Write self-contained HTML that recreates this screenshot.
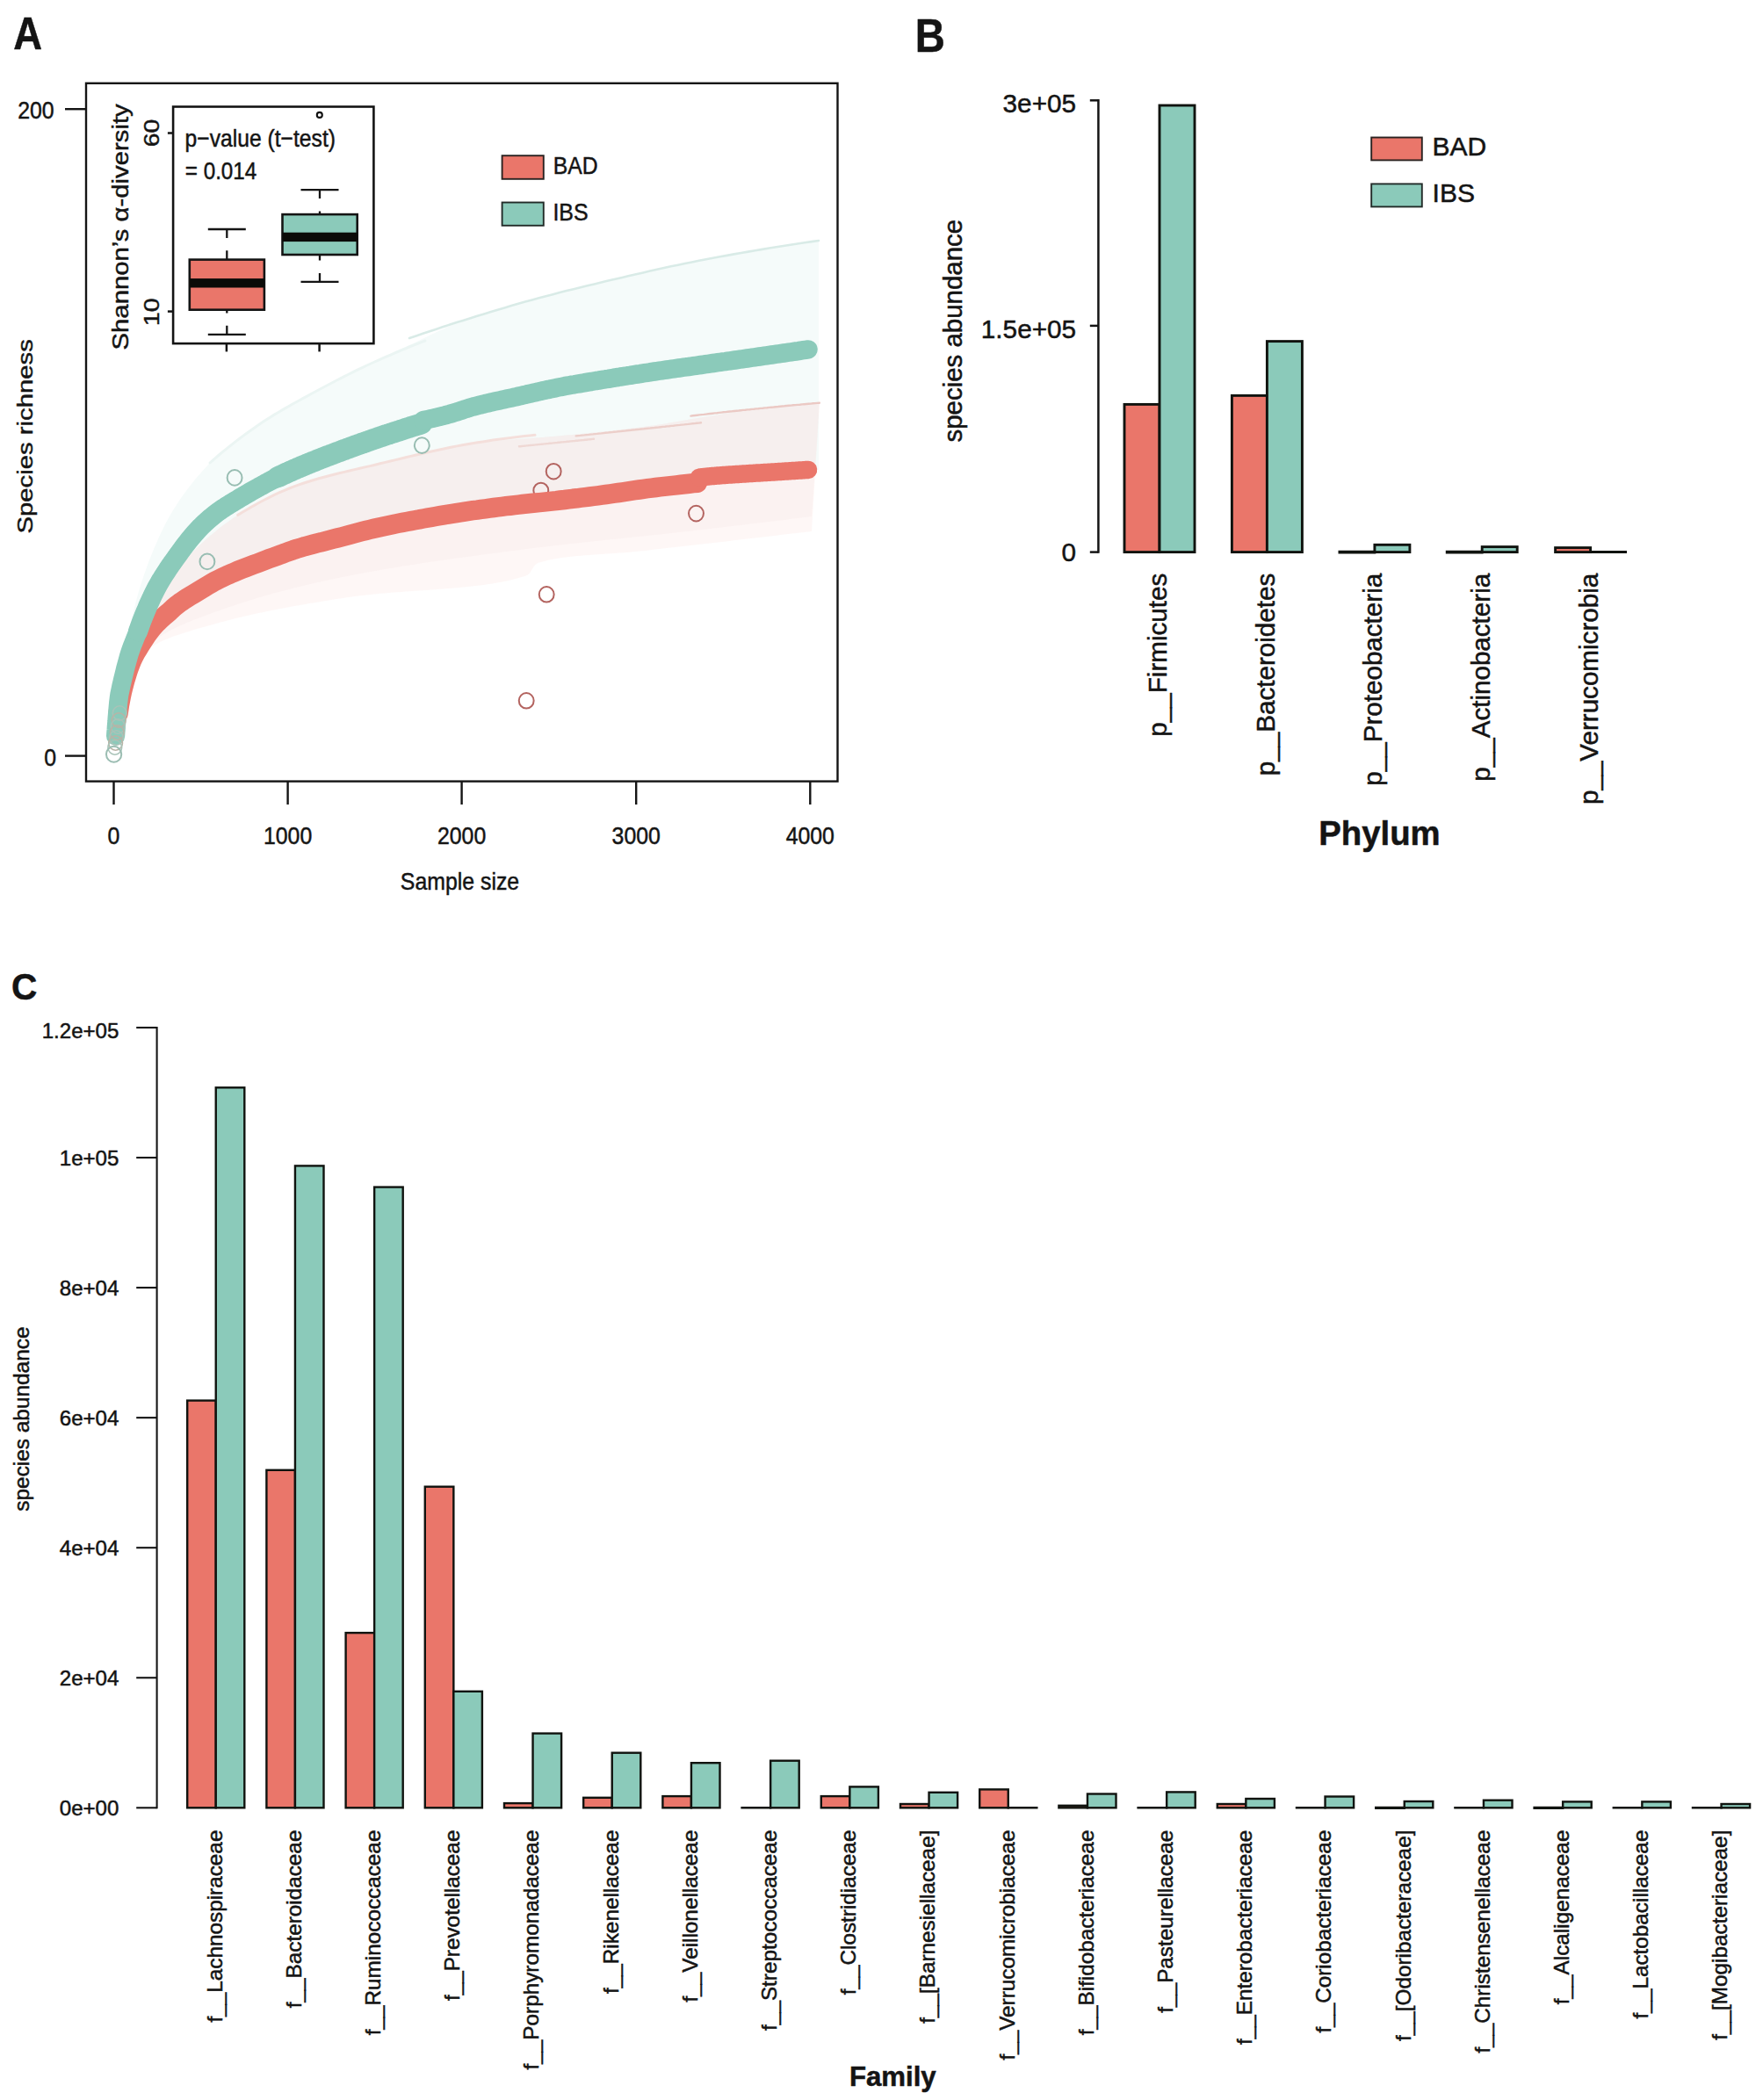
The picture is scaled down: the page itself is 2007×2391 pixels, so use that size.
<!DOCTYPE html>
<html lang="en">
<head>
<meta charset="utf-8">
<title>Figure: species richness and abundance (BAD vs IBS)</title>
<style>
html,body{margin:0;padding:0;background:#fff;}
body{width:2007px;height:2391px;overflow:hidden;}
svg{display:block;font-family:"Liberation Sans", Arial, Helvetica, sans-serif;}
</style>
</head>
<body>
<svg width="2007" height="2391" viewBox="0 0 2007 2391">
<rect width="2007" height="2391" fill="#ffffff"/>
<g id="panelA">
<path d="M131.0,835.0 L131.3,829.5 L131.6,824.0 L132.0,818.6 L132.5,813.1 L133.0,807.6 L133.5,802.2 L134.1,796.8 L134.8,791.4 L135.5,786.0 L136.2,780.6 L137.0,775.2 L137.8,769.8 L138.7,764.4 L139.6,759.1 L140.5,753.8 L141.4,748.4 L142.4,743.1 L143.4,737.8 L144.4,732.5 L145.5,727.2 L146.5,721.9 L147.6,716.6 L148.7,711.4 L149.8,706.1 L150.9,700.9 L152.1,695.6 L153.4,690.4 L154.7,685.1 L156.2,679.8 L157.6,674.5 L159.2,669.3 L160.8,664.0 L162.5,658.8 L164.3,653.6 L166.1,648.4 L168.0,643.2 L169.9,638.1 L171.9,633.0 L173.9,627.9 L176.0,622.9 L178.2,618.0 L180.3,613.1 L182.5,608.2 L184.8,603.4 L187.1,598.7 L189.6,594.0 L192.2,589.2 L194.9,584.5 L197.7,579.8 L200.7,575.2 L203.7,570.6 L206.8,566.0 L210.1,561.5 L213.4,557.0 L216.7,552.7 L220.2,548.3 L223.6,544.1 L227.2,539.9 L230.7,535.9 L234.4,531.9 L238.0,528.1 L241.7,524.3 L245.5,520.6 L249.5,517.0 L253.5,513.5 L257.7,510.1 L262.0,506.7 L266.3,503.3 L270.8,500.1 L275.2,496.8 L279.7,493.7 L284.3,490.5 L288.8,487.5 L293.3,484.4 L297.9,481.4 L302.4,478.4 L306.9,475.5 L311.5,472.7 L316.1,469.9 L320.8,467.1 L325.5,464.4 L330.2,461.7 L335.0,459.0 L339.8,456.4 L344.5,453.8 L349.3,451.2 L354.1,448.6 L358.8,446.0 L363.6,443.4 L368.4,440.9 L373.2,438.4 L378.0,435.9 L382.9,433.5 L387.7,431.0 L392.6,428.6 L397.4,426.2 L402.3,423.7 L407.2,421.3 L412.0,418.9 L416.9,416.5 L421.8,414.1 L426.6,411.7 L431.5,409.4 L436.4,407.0 L441.3,404.6 L446.2,402.3 L451.1,399.9 L456.0,397.6 L460.9,395.3 L465.8,393.0 L470.7,390.7 L475.6,388.4 L480.5,386.0 L485.4,383.7 L490.3,381.3 L495.2,379.0 L500.1,376.6 L505.1,374.4 L510.0,372.1 L515.0,370.0 L520.0,367.9 L525.0,365.9 L530.1,364.0 L535.1,362.2 L540.3,360.4 L545.4,358.7 L550.6,357.1 L555.8,355.5 L561.0,353.9 L566.2,352.4 L571.4,350.9 L576.6,349.5 L581.9,348.0 L587.1,346.5 L592.4,345.1 L597.6,343.7 L602.8,342.2 L608.1,340.8 L613.3,339.4 L618.5,338.0 L623.8,336.6 L629.0,335.2 L634.3,333.9 L639.5,332.5 L644.8,331.2 L650.1,329.9 L655.3,328.6 L660.6,327.3 L665.9,326.0 L671.1,324.7 L676.4,323.5 L681.7,322.2 L687.0,320.9 L692.3,319.7 L697.5,318.4 L702.8,317.2 L708.1,315.9 L713.4,314.7 L718.7,313.4 L724.0,312.2 L729.2,311.0 L734.5,309.8 L739.8,308.6 L745.1,307.4 L750.4,306.2 L755.7,305.1 L761.0,303.9 L766.3,302.8 L771.6,301.7 L777.0,300.6 L782.3,299.5 L787.6,298.4 L792.9,297.4 L798.2,296.3 L803.5,295.3 L808.9,294.3 L814.2,293.3 L819.5,292.3 L824.9,291.4 L830.2,290.4 L835.5,289.4 L840.9,288.5 L846.2,287.5 L851.6,286.6 L856.9,285.7 L862.3,284.8 L867.6,283.9 L873.0,283.0 L878.3,282.1 L883.7,281.2 L889.0,280.4 L894.4,279.5 L899.8,278.7 L905.1,277.9 L910.5,277.1 L915.9,276.3 L921.2,275.5 L926.6,274.8 L932.0,274.0 L932.0,535.0 L927.4,535.5 L922.7,536.0 L918.1,536.6 L913.4,537.1 L908.8,537.6 L904.2,538.1 L899.5,538.6 L894.9,539.2 L890.2,539.7 L885.6,540.2 L880.9,540.7 L876.3,541.3 L871.7,541.8 L867.0,542.3 L862.4,542.8 L857.7,543.4 L853.1,543.9 L848.5,544.4 L843.8,545.0 L839.2,545.5 L834.5,546.0 L829.9,546.5 L825.3,547.1 L820.6,547.6 L816.0,548.1 L811.3,548.7 L806.7,549.2 L802.1,549.8 L797.4,550.3 L792.8,550.8 L788.2,551.4 L783.5,551.9 L778.9,552.5 L774.2,553.0 L769.6,553.6 L765.0,554.1 L760.3,554.6 L755.7,555.2 L751.0,555.7 L746.4,556.3 L741.8,556.8 L737.1,557.4 L732.5,557.9 L727.9,558.5 L723.2,559.0 L718.6,559.6 L713.9,560.2 L709.3,560.7 L704.7,561.3 L700.0,561.8 L695.4,562.4 L690.8,562.9 L686.1,563.5 L681.5,564.0 L676.8,564.6 L672.2,565.1 L667.6,565.7 L662.9,566.3 L658.3,566.8 L653.7,567.4 L649.0,567.9 L644.4,568.5 L639.8,569.0 L635.1,569.6 L630.5,570.1 L625.8,570.7 L621.2,571.2 L616.6,571.7 L611.9,572.2 L607.3,572.8 L602.6,573.3 L598.0,573.8 L593.3,574.3 L588.7,574.9 L584.1,575.4 L579.4,576.0 L574.8,576.5 L570.1,577.1 L565.5,577.6 L560.9,578.2 L556.2,578.8 L551.6,579.4 L547.0,580.0 L542.4,580.7 L537.7,581.3 L533.1,582.0 L528.5,582.7 L523.9,583.3 L519.3,584.0 L514.6,584.7 L510.0,585.5 L505.4,586.2 L500.8,586.9 L496.2,587.7 L491.6,588.4 L486.9,589.2 L482.3,590.0 L477.7,590.8 L473.1,591.6 L468.5,592.4 L463.9,593.3 L459.3,594.1 L454.8,595.0 L450.2,595.9 L445.6,596.8 L441.0,597.7 L436.5,598.7 L431.9,599.6 L427.3,600.6 L422.8,601.6 L418.2,602.6 L413.7,603.6 L409.1,604.7 L404.6,605.8 L400.1,606.9 L395.5,608.1 L391.0,609.3 L386.5,610.5 L381.9,611.7 L377.4,612.9 L372.9,614.2 L368.4,615.5 L363.9,616.8 L359.4,618.1 L355.0,619.4 L350.5,620.8 L346.0,622.1 L341.6,623.5 L337.2,624.9 L332.7,626.3 L328.3,627.8 L323.8,629.2 L319.4,630.7 L315.0,632.3 L310.5,633.8 L306.1,635.4 L301.7,637.1 L297.4,638.7 L293.0,640.4 L288.6,642.1 L284.3,643.9 L280.0,645.7 L275.7,647.5 L271.5,649.3 L267.2,651.2 L263.0,653.2 L258.7,655.1 L254.4,657.1 L250.1,659.2 L245.8,661.2 L241.6,663.4 L237.3,665.5 L233.1,667.8 L229.0,670.0 L224.9,672.4 L220.9,674.8 L216.9,677.2 L213.1,679.7 L209.3,682.3 L205.6,685.0 L202.1,687.7 L198.5,690.6 L195.0,693.6 L191.5,696.7 L188.0,700.0 L184.5,703.3 L181.1,706.8 L177.9,710.3 L174.7,714.0 L171.6,717.7 L168.8,721.4 L166.0,725.2 L163.5,729.1 L161.2,732.9 L159.0,736.8 L157.0,740.8 L155.0,745.0 L153.2,749.2 L151.4,753.6 L149.6,758.0 L148.0,762.4 L146.4,767.0 L145.0,771.5 L143.6,776.1 L142.3,780.6 L141.1,785.2 L140.1,789.7 L139.1,794.2 L138.1,798.7 L137.1,803.3 L136.2,807.8 L135.3,812.4 L134.5,817.0 L133.8,821.6 L133.1,826.3 L132.4,830.9 L131.9,835.6 L131.4,840.3 L131.0,845.0Z" fill="#f5fbfa"/>
<path d="M133.0,835.0 L133.2,829.9 L133.5,824.8 L133.9,819.7 L134.4,814.7 L135.0,809.7 L135.7,804.7 L136.5,799.8 L137.3,794.8 L138.2,790.0 L139.2,785.1 L140.3,780.3 L141.4,775.5 L142.6,770.7 L143.8,766.0 L145.1,761.3 L146.4,756.6 L147.8,751.9 L149.2,747.3 L150.6,742.7 L152.1,738.1 L153.6,733.6 L155.1,729.1 L156.7,724.6 L158.2,720.1 L159.8,715.7 L161.4,711.3 L163.2,706.8 L165.2,702.4 L167.4,698.1 L169.7,693.7 L172.1,689.4 L174.7,685.1 L177.3,680.9 L180.1,676.7 L182.9,672.5 L185.8,668.4 L188.8,664.4 L191.7,660.5 L194.7,656.6 L197.7,652.8 L200.7,649.1 L203.8,645.4 L206.9,641.8 L210.2,638.2 L213.5,634.6 L216.9,631.0 L220.3,627.5 L223.9,624.0 L227.5,620.6 L231.1,617.2 L234.8,613.8 L238.6,610.6 L242.4,607.4 L246.3,604.2 L250.1,601.1 L254.0,598.1 L258.0,595.2 L261.9,592.4 L265.9,589.6 L269.9,586.9 L273.9,584.4 L278.0,581.8 L282.1,579.3 L286.3,576.8 L290.6,574.4 L294.9,572.0 L299.3,569.7 L303.7,567.5 L308.2,565.3 L312.7,563.2 L317.2,561.1 L321.7,559.1 L326.2,557.2 L330.8,555.4 L335.3,553.7 L339.9,552.0 L344.4,550.5 L349.0,549.0 L353.7,547.5 L358.3,546.1 L363.0,544.8 L367.7,543.5 L372.4,542.2 L377.2,541.0 L381.9,539.8 L386.7,538.6 L391.5,537.5 L396.3,536.3 L401.1,535.2 L405.9,534.1 L410.6,533.0 L415.4,531.9 L420.2,530.8 L425.0,529.7 L429.8,528.5 L434.5,527.4 L439.3,526.2 L444.0,525.1 L448.8,523.9 L453.5,522.7 L458.3,521.5 L463.0,520.3 L467.8,519.1 L472.6,517.9 L477.3,516.7 L482.1,515.5 L486.9,514.4 L491.6,513.3 L496.4,512.2 L501.2,511.1 L506.0,510.1 L510.8,509.1 L515.6,508.2 L520.4,507.3 L525.2,506.5 L530.0,505.8 L534.8,505.1 L539.6,504.4 L544.5,503.9 L549.3,503.3 L554.1,502.8 L559.0,502.4 L563.9,501.9 L568.7,501.5 L573.6,501.1 L578.5,500.7 L583.4,500.4 L588.2,500.0 L593.1,499.7 L598.0,499.3 L602.9,499.0 L607.8,498.6 L612.7,498.3 L617.6,497.9 L622.5,497.5 L627.3,497.1 L632.2,496.7 L637.1,496.3 L642.0,495.8 L646.8,495.3 L651.7,494.9 L656.6,494.4 L661.4,493.9 L666.3,493.4 L671.2,493.0 L676.0,492.5 L680.9,492.0 L685.8,491.4 L690.6,490.9 L695.5,490.4 L700.3,489.9 L705.2,489.3 L710.1,488.8 L714.9,488.2 L719.8,487.6 L724.6,487.0 L729.5,486.4 L734.3,485.8 L739.2,485.1 L744.0,484.4 L748.8,483.7 L753.7,483.0 L758.5,482.2 L763.3,481.3 L768.1,480.5 L772.9,479.7 L777.8,478.8 L782.6,477.9 L787.4,477.1 L792.2,476.3 L797.1,475.5 L801.9,474.7 L806.7,473.9 L811.5,473.2 L816.4,472.4 L821.2,471.6 L826.0,470.8 L830.9,470.1 L835.7,469.3 L840.5,468.6 L845.4,467.9 L850.2,467.3 L855.1,466.6 L859.9,466.0 L864.8,465.4 L869.6,464.9 L874.5,464.3 L879.3,463.7 L884.2,463.2 L889.1,462.7 L893.9,462.2 L898.8,461.7 L903.6,461.2 L908.5,460.7 L913.4,460.3 L918.3,459.9 L923.1,459.5 L928.0,459.1 L932.9,458.7 L924.0,605.0 L919.5,605.5 L915.1,606.0 L910.6,606.6 L906.2,607.1 L901.7,607.6 L897.3,608.1 L892.8,608.6 L888.4,609.1 L883.9,609.7 L879.5,610.2 L875.0,610.7 L870.6,611.2 L866.1,611.7 L861.7,612.2 L857.2,612.8 L852.8,613.3 L848.3,613.8 L843.9,614.3 L839.4,614.8 L835.0,615.3 L830.5,615.9 L826.1,616.4 L821.6,616.9 L817.2,617.4 L812.7,617.9 L808.3,618.4 L803.8,618.9 L799.3,619.5 L794.9,620.0 L790.4,620.5 L786.0,621.0 L781.5,621.5 L777.1,622.0 L772.6,622.5 L768.2,623.1 L763.7,623.6 L759.3,624.1 L754.8,624.6 L750.4,625.1 L745.9,625.6 L741.5,626.1 L737.0,626.7 L732.6,627.2 L728.0,627.6 L723.5,628.1 L718.8,628.5 L714.1,628.9 L709.4,629.2 L704.6,629.6 L699.8,629.9 L695.0,630.2 L690.2,630.6 L685.4,630.9 L680.6,631.2 L675.8,631.6 L671.0,631.9 L666.3,632.3 L661.6,632.7 L657.0,633.1 L652.4,633.5 L648.0,634.0 L643.5,634.6 L639.2,635.1 L635.0,635.8 L630.9,636.5 L626.9,637.2 L623.0,638.0 L619.3,638.9 L615.7,639.9 L612.3,640.9 L609.1,643.2 L606.4,647.3 L603.6,651.7 L600.6,654.7 L597.3,655.9 L593.8,657.0 L590.3,658.1 L586.6,659.1 L582.9,660.0 L579.1,660.9 L575.2,661.8 L571.3,662.6 L567.3,663.3 L563.2,664.0 L559.0,664.7 L554.8,665.3 L550.5,665.9 L546.1,666.5 L541.7,667.0 L537.3,667.6 L532.8,668.0 L528.3,668.5 L523.7,668.9 L519.1,669.3 L514.4,669.7 L509.7,670.1 L505.0,670.5 L500.3,670.8 L495.5,671.2 L490.7,671.5 L486.0,671.9 L481.1,672.2 L476.3,672.5 L471.5,672.8 L466.7,673.2 L461.9,673.5 L457.1,673.9 L452.2,674.2 L447.5,674.6 L442.7,675.0 L437.9,675.4 L433.1,675.8 L428.4,676.2 L423.7,676.7 L419.0,677.2 L414.4,677.7 L409.8,678.2 L405.2,678.8 L400.7,679.4 L396.2,680.0 L391.8,680.7 L387.4,681.4 L382.9,682.1 L378.5,682.8 L374.1,683.5 L369.6,684.2 L365.2,684.9 L360.8,685.7 L356.3,686.4 L351.9,687.1 L347.4,687.9 L343.0,688.7 L338.6,689.5 L334.1,690.3 L329.7,691.1 L325.3,691.9 L320.8,692.7 L316.4,693.6 L312.0,694.5 L307.6,695.3 L303.2,696.3 L298.8,697.2 L294.4,698.1 L290.0,699.1 L285.6,700.0 L281.3,701.0 L276.9,702.1 L272.6,703.1 L268.2,704.1 L263.9,705.2 L259.6,706.3 L255.3,707.5 L251.0,708.6 L246.8,709.8 L242.5,711.0 L238.0,712.2 L233.5,713.5 L228.8,714.8 L224.1,716.1 L219.4,717.5 L214.6,718.9 L209.9,720.4 L205.2,721.9 L200.6,723.5 L196.1,725.1 L191.6,726.9 L187.4,728.6 L183.2,730.5 L179.3,732.5 L175.6,734.5 L172.1,736.6 L169.0,738.8 L166.0,741.1 L163.5,743.5 L161.1,746.1 L158.9,749.2 L156.8,752.6 L154.7,756.4 L152.7,760.4 L150.9,764.7 L149.1,769.2 L147.4,773.8 L145.9,778.4 L144.4,783.2 L143.1,787.8 L141.8,792.5 L140.7,796.9 L139.7,801.3 L138.7,805.6 L137.8,809.9 L136.9,814.3 L136.0,818.7 L135.2,823.1 L134.5,827.5 L133.8,832.0 L133.2,836.4 L132.7,840.9 L132.3,845.5 L132.0,850.0Z" fill="#fbe4e0" fill-opacity="0.29"/>
<path d="M133.0,835.0 L133.2,829.9 L133.5,824.8 L133.9,819.7 L134.4,814.7 L135.0,809.7 L135.7,804.7 L136.5,799.8 L137.3,794.8 L138.2,790.0 L139.2,785.1 L140.3,780.3 L141.4,775.5 L142.6,770.7 L143.8,766.0 L145.1,761.3 L146.4,756.6 L147.8,751.9 L149.2,747.3 L150.6,742.7 L152.1,738.1 L153.6,733.6 L155.1,729.1 L156.7,724.6 L158.2,720.1 L159.8,715.7 L161.4,711.3 L163.2,706.8 L165.2,702.4 L167.4,698.1 L169.7,693.7 L172.1,689.4 L174.7,685.1 L177.3,680.9 L180.1,676.7 L182.9,672.5 L185.8,668.4 L188.8,664.4 L191.7,660.5 L194.7,656.6 L197.7,652.8 L200.7,649.1 L203.8,645.4 L206.9,641.8 L210.2,638.2 L213.5,634.6 L216.9,631.0 L220.3,627.5 L223.9,624.0 L227.5,620.6 L231.1,617.2 L234.8,613.8 L238.6,610.6 L242.4,607.4 L246.3,604.2 L250.1,601.1 L254.0,598.1 L258.0,595.2 L261.9,592.4 L265.9,589.6 L269.9,586.9 L273.9,584.4 L278.0,581.8 L282.1,579.3 L286.3,576.8 L290.6,574.4 L294.9,572.0 L299.3,569.7 L303.7,567.5 L308.2,565.3 L312.7,563.2 L317.2,561.1 L321.7,559.1 L326.2,557.2 L330.8,555.4 L335.3,553.7 L339.9,552.0 L344.4,550.5 L349.0,549.0 L353.7,547.5 L358.3,546.1 L363.0,544.8 L367.7,543.5 L372.4,542.2 L377.2,541.0 L381.9,539.8 L386.7,538.6 L391.5,537.5 L396.3,536.3 L401.1,535.2 L405.9,534.1 L410.6,533.0 L415.4,531.9 L420.2,530.8 L425.0,529.7 L429.8,528.5 L434.5,527.4 L439.3,526.2 L444.0,525.1 L448.8,523.9 L453.5,522.7 L458.3,521.5 L463.0,520.3 L467.8,519.1 L472.6,517.9 L477.3,516.7 L482.1,515.5 L486.9,514.4 L491.6,513.3 L496.4,512.2 L501.2,511.1 L506.0,510.1 L510.8,509.1 L515.6,508.2 L520.4,507.3 L525.2,506.5 L530.0,505.8 L534.8,505.1 L539.6,504.4 L544.5,503.9 L549.3,503.3 L554.1,502.8 L559.0,502.4 L563.9,501.9 L568.7,501.5 L573.6,501.1 L578.5,500.7 L583.4,500.4 L588.2,500.0 L593.1,499.7 L598.0,499.3 L602.9,499.0 L607.8,498.6 L612.7,498.3 L617.6,497.9 L622.5,497.5 L627.3,497.1 L632.2,496.7 L637.1,496.3 L642.0,495.8 L646.8,495.3 L651.7,494.9 L656.6,494.4 L661.4,493.9 L666.3,493.4 L671.2,493.0 L676.0,492.5 L680.9,492.0 L685.8,491.4 L690.6,490.9 L695.5,490.4 L700.3,489.9 L705.2,489.3 L710.1,488.8 L714.9,488.2 L719.8,487.6 L724.6,487.0 L729.5,486.4 L734.3,485.8 L739.2,485.1 L744.0,484.4 L748.8,483.7 L753.7,483.0 L758.5,482.2 L763.3,481.3 L768.1,480.5 L772.9,479.7 L777.8,478.8 L782.6,477.9 L787.4,477.1 L792.2,476.3 L797.1,475.5 L801.9,474.7 L806.7,473.9 L811.5,473.2 L816.4,472.4 L821.2,471.6 L826.0,470.8 L830.9,470.1 L835.7,469.3 L840.5,468.6 L845.4,467.9 L850.2,467.3 L855.1,466.6 L859.9,466.0 L864.8,465.4 L869.6,464.9 L874.5,464.3 L879.3,463.7 L884.2,463.2 L889.1,462.7 L893.9,462.2 L898.8,461.7 L903.6,461.2 L908.5,460.7 L913.4,460.3 L918.3,459.9 L923.1,459.5 L928.0,459.1 L932.9,458.7 L924.0,588.0 L919.8,588.5 L915.6,589.1 L911.4,589.6 L907.2,590.1 L902.9,590.6 L898.7,591.1 L894.5,591.7 L890.3,592.2 L886.1,592.7 L881.9,593.2 L877.7,593.7 L873.5,594.3 L869.2,594.8 L865.0,595.3 L860.8,595.8 L856.6,596.3 L852.4,596.8 L848.2,597.3 L844.0,597.8 L839.7,598.3 L835.5,598.8 L831.3,599.3 L827.1,599.8 L822.9,600.3 L818.7,600.8 L814.5,601.3 L810.2,601.8 L806.0,602.3 L801.8,602.8 L797.6,603.3 L793.4,603.8 L789.2,604.2 L784.9,604.7 L780.7,605.2 L776.5,605.6 L772.3,606.1 L768.1,606.6 L763.8,607.0 L759.6,607.5 L755.4,607.9 L751.2,608.4 L747.0,608.8 L742.7,609.3 L738.5,609.7 L734.3,610.2 L730.1,610.6 L725.8,611.0 L721.6,611.5 L717.4,611.9 L713.2,612.3 L709.0,612.8 L704.7,613.2 L700.5,613.7 L696.3,614.1 L692.1,614.5 L687.8,615.0 L683.6,615.4 L679.4,615.9 L675.2,616.3 L671.0,616.8 L666.7,617.2 L662.5,617.7 L658.3,618.2 L654.1,618.6 L649.9,619.1 L645.6,619.6 L641.4,620.0 L637.2,620.5 L633.0,621.0 L628.8,621.5 L624.6,622.0 L620.4,622.5 L616.1,623.0 L611.9,623.5 L607.7,624.0 L603.5,624.6 L599.3,625.1 L595.1,625.6 L590.9,626.2 L586.7,626.7 L582.5,627.2 L578.2,627.8 L574.0,628.3 L569.8,628.9 L565.6,629.4 L561.4,629.9 L557.2,630.5 L553.0,631.0 L548.7,631.6 L544.5,632.2 L540.3,632.7 L536.1,633.3 L531.9,633.9 L527.7,634.4 L523.5,635.0 L519.2,635.6 L515.0,636.2 L510.8,636.8 L506.6,637.4 L502.4,638.0 L498.2,638.6 L494.0,639.2 L489.8,639.8 L485.6,640.4 L481.4,641.1 L477.2,641.7 L473.0,642.4 L468.8,643.0 L464.6,643.7 L460.4,644.3 L456.2,645.0 L452.0,645.7 L447.8,646.4 L443.7,647.1 L439.5,647.8 L435.3,648.5 L431.1,649.2 L427.0,650.0 L422.8,650.7 L418.6,651.5 L414.5,652.2 L410.3,653.0 L406.2,653.8 L402.0,654.6 L397.9,655.4 L393.7,656.2 L389.6,657.1 L385.4,657.9 L381.2,658.8 L377.1,659.7 L372.9,660.6 L368.7,661.5 L364.6,662.4 L360.4,663.3 L356.3,664.3 L352.1,665.2 L347.9,666.2 L343.8,667.2 L339.6,668.2 L335.5,669.3 L331.3,670.3 L327.2,671.4 L323.1,672.4 L318.9,673.5 L314.8,674.7 L310.7,675.8 L306.6,676.9 L302.5,678.1 L298.4,679.3 L294.3,680.5 L290.3,681.7 L286.2,682.9 L282.1,684.2 L278.1,685.5 L274.1,686.7 L270.1,688.1 L266.1,689.4 L262.1,690.7 L258.1,692.1 L254.2,693.5 L250.2,694.9 L246.3,696.3 L242.2,697.8 L238.1,699.3 L233.9,700.8 L229.6,702.4 L225.4,704.0 L221.1,705.6 L216.8,707.3 L212.6,709.1 L208.4,710.9 L204.3,712.7 L200.3,714.6 L196.3,716.6 L192.5,718.6 L188.8,720.7 L185.2,722.8 L181.8,725.0 L178.6,727.3 L175.6,729.7 L172.9,732.1 L170.3,734.7 L167.9,737.3 L165.6,740.1 L163.3,743.2 L161.1,746.4 L158.9,749.7 L156.8,753.3 L154.8,756.9 L152.9,760.8 L151.0,764.7 L149.3,768.8 L147.6,773.0 L146.0,777.2 L144.6,781.6 L143.2,786.1 L142.0,790.7 L141.0,795.3 L140.0,800.0Z" fill="#f3e2df" fill-opacity="0.23"/>
<path d="M239.0,527.0 L242.6,523.8 L246.3,520.6 L249.9,517.5 L253.6,514.4 L257.4,511.4 L261.1,508.4 L264.9,505.4 L268.7,502.4 L272.5,499.5 L276.3,496.6 L280.2,493.8 L284.1,491.0 L288.0,488.2 L291.9,485.5 L295.8,482.8 L299.8,480.1 L303.8,477.5 L307.8,475.0 L311.9,472.4 L316.0,470.0 L320.1,467.5 L324.2,465.1 L328.4,462.7 L332.6,460.3 L336.8,458.0 L341.0,455.7 L345.2,453.4 L349.5,451.1 L353.7,448.8 L357.9,446.5 L362.1,444.2 L366.3,442.0 L370.6,439.7 L374.8,437.5 L379.1,435.2 L383.3,433.0 L387.6,430.8 L391.9,428.6 L396.2,426.5 L400.5,424.3 L404.8,422.2 L409.1,420.1 L413.4,418.1 L417.7,416.0 L422.1,414.0 L426.5,412.0 L430.8,410.1 L435.2,408.1 L439.6,406.2 L444.0,404.3 L448.4,402.4 L452.8,400.5 L457.2,398.7 L461.7,396.8 L466.1,395.0 L470.6,393.2 L475.0,391.5 L479.5,389.7 L484.0,388.0" fill="none" stroke="#ebf5f3" stroke-width="3" stroke-linecap="round" opacity="1"/>
<path d="M466.0,385.0 L473.7,382.4 L481.4,379.8 L489.1,377.2 L496.8,374.7 L504.6,372.1 L512.3,369.6 L520.0,367.1 L527.8,364.7 L535.6,362.3 L543.3,359.8 L551.1,357.4 L558.9,355.0 L566.6,352.7 L574.4,350.4 L582.2,348.1 L590.0,345.8 L597.9,343.6 L605.7,341.4 L613.6,339.3 L621.4,337.2 L629.3,335.2 L637.2,333.1 L645.0,331.1 L652.9,329.2 L660.8,327.2 L668.7,325.3 L676.6,323.4 L684.5,321.5 L692.4,319.6 L700.4,317.7 L708.3,315.9 L716.2,314.0 L724.1,312.2 L732.1,310.4 L740.0,308.6 L747.9,306.8 L755.9,305.0 L763.8,303.3 L771.8,301.7 L779.7,300.0 L787.7,298.4 L795.7,296.8 L803.7,295.3 L811.6,293.8 L819.6,292.3 L827.6,290.9 L835.6,289.4 L843.6,288.0 L851.6,286.6 L859.6,285.2 L867.7,283.9 L875.7,282.5 L883.7,281.2 L891.8,280.0 L899.8,278.7 L907.8,277.5 L915.9,276.3 L923.9,275.1 L932.0,274.0" fill="none" stroke="#d9ebe7" stroke-width="2.6" stroke-linecap="round" opacity="1"/>
<path d="M270.7,586.4 L275.9,583.3 L281.1,580.2 L286.3,577.1 L291.6,574.2 L296.9,571.3 L302.2,568.5 L307.5,565.8 L312.9,563.2 L318.3,560.7 L323.8,558.3 L329.3,556.0 L334.8,553.9 L340.3,551.9 L345.9,550.0 L351.5,548.2 L357.2,546.5 L362.9,544.8 L368.7,543.2 L374.4,541.7 L380.2,540.2 L386.1,538.8 L391.9,537.4 L397.8,536.0 L403.6,534.6 L409.5,533.3 L415.3,531.9 L421.2,530.6 L427.0,529.2 L432.8,527.8 L438.6,526.4 L444.5,525.0 L450.3,523.6 L456.1,522.2 L461.9,520.8 L467.7,519.4 L473.6,518.0 L479.4,516.7 L485.2,515.3 L491.1,514.0 L496.9,512.7 L502.7,511.5 L508.6,510.2 L514.4,509.0 L520.3,507.9 L526.2,506.8 L532.0,505.7 L537.9,504.7 L543.8,503.8 L549.7,502.9 L555.6,502.0 L561.5,501.1 L567.4,500.3 L573.3,499.5 L579.3,498.7 L585.2,497.9 L591.1,497.2 L597.1,496.6 L603.0,495.9 L609.0,495.3" fill="none" stroke="#f4dfdb" stroke-width="3" stroke-linecap="round" opacity="1"/>
<path d="M591.0,508.3 L592.4,508.2 L593.9,508.0 L595.3,507.9 L596.8,507.7 L598.2,507.6 L599.6,507.4 L601.1,507.3 L602.5,507.1 L604.0,507.0 L605.4,506.9 L606.8,506.7 L608.3,506.6 L609.7,506.4 L611.2,506.3 L612.6,506.1 L614.1,506.0 L615.5,505.9 L616.9,505.7 L618.4,505.6 L619.8,505.4 L621.3,505.3 L622.7,505.1 L624.1,505.0 L625.6,504.8 L627.0,504.7 L628.5,504.6 L629.9,504.4 L631.3,504.3 L632.8,504.1 L634.2,504.0 L635.7,503.8 L637.1,503.7 L638.5,503.5 L640.0,503.4 L641.4,503.3 L642.9,503.1 L644.3,503.0 L645.7,502.8 L647.2,502.7 L648.6,502.5 L650.1,502.4 L651.5,502.2 L652.9,502.1 L654.4,502.0 L655.8,501.8 L657.3,501.7 L658.7,501.5 L660.2,501.4 L661.6,501.2 L663.0,501.1 L664.5,501.0 L665.9,500.8 L667.4,500.7 L668.8,500.5 L670.2,500.4 L671.7,500.2 L673.1,500.1 L674.6,499.9 L676.0,499.8" fill="none" stroke="#efd8d4" stroke-width="2.4" stroke-linecap="round" opacity="1"/>
<path d="M655.7,496.4 L658.1,496.1 L660.5,495.9 L662.9,495.6 L665.3,495.4 L667.8,495.1 L670.2,494.9 L672.6,494.6 L675.0,494.4 L677.4,494.1 L679.8,493.9 L682.2,493.6 L684.6,493.4 L687.1,493.1 L689.5,492.8 L691.9,492.6 L694.3,492.3 L696.7,492.1 L699.1,491.8 L701.5,491.6 L703.9,491.3 L706.4,491.1 L708.8,490.8 L711.2,490.6 L713.6,490.3 L716.0,490.0 L718.4,489.8 L720.8,489.5 L723.2,489.3 L725.6,489.0 L728.1,488.8 L730.5,488.5 L732.9,488.3 L735.3,488.0 L737.7,487.7 L740.1,487.5 L742.5,487.2 L744.9,487.0 L747.4,486.7 L749.8,486.5 L752.2,486.2 L754.6,485.9 L757.0,485.7 L759.4,485.4 L761.8,485.2 L764.2,484.9 L766.6,484.7 L769.1,484.4 L771.5,484.1 L773.9,483.9 L776.3,483.6 L778.7,483.4 L781.1,483.1 L783.5,482.9 L785.9,482.6 L788.4,482.3 L790.8,482.1 L793.2,481.8 L795.6,481.6 L798.0,481.3" fill="none" stroke="#eccfca" stroke-width="2.4" stroke-linecap="round" opacity="1"/>
<path d="M786.4,473.6 L788.9,473.3 L791.4,473.0 L793.8,472.7 L796.3,472.4 L798.8,472.1 L801.3,471.9 L803.8,471.6 L806.2,471.3 L808.7,471.0 L811.2,470.7 L813.7,470.4 L816.2,470.2 L818.6,469.9 L821.1,469.6 L823.6,469.3 L826.1,469.1 L828.6,468.8 L831.0,468.5 L833.5,468.3 L836.0,468.0 L838.5,467.7 L841.0,467.5 L843.5,467.2 L845.9,466.9 L848.4,466.7 L850.9,466.4 L853.4,466.2 L855.9,465.9 L858.3,465.7 L860.8,465.4 L863.3,465.2 L865.8,464.9 L868.3,464.7 L870.8,464.4 L873.2,464.2 L875.7,463.9 L878.2,463.7 L880.7,463.5 L883.2,463.2 L885.7,463.0 L888.2,462.7 L890.6,462.5 L893.1,462.3 L895.6,462.0 L898.1,461.8 L900.6,461.6 L903.1,461.3 L905.5,461.1 L908.0,460.9 L910.5,460.7 L913.0,460.4 L915.5,460.2 L918.0,460.0 L920.5,459.8 L923.0,459.6 L925.4,459.3 L927.9,459.1 L930.4,458.9 L932.9,458.7" fill="none" stroke="#ebc9c4" stroke-width="2.4" stroke-linecap="round" opacity="1"/>
<ellipse cx="630.2" cy="536.7" rx="8.45" ry="8.80" fill="none" stroke="#b3635f" stroke-width="2.0"/>
<ellipse cx="615.8" cy="558.5" rx="8.45" ry="8.80" fill="none" stroke="#b3635f" stroke-width="2.0"/>
<ellipse cx="792.5" cy="584.6" rx="8.45" ry="8.80" fill="none" stroke="#b3635f" stroke-width="2.0"/>
<ellipse cx="622.2" cy="676.8" rx="8.45" ry="8.80" fill="none" stroke="#b3635f" stroke-width="2.0"/>
<ellipse cx="599.2" cy="797.8" rx="8.45" ry="8.80" fill="none" stroke="#b3635f" stroke-width="2.0"/>
<path d="M134.6,812.0 L135.3,807.3 L136.0,802.6 L136.9,797.9 L137.8,793.2 L138.8,788.5 L139.9,783.9 L141.1,779.2 L142.3,774.6 L143.7,770.1 L145.1,765.5 L146.6,761.0 L148.3,756.5 L150.1,752.1 L152.1,747.8 L154.3,743.6 L156.8,739.4 L159.3,735.4 L161.8,731.3 L164.4,727.3 L167.1,723.3 L169.9,719.4 L172.8,715.6 L175.8,712.1 L179.1,708.7 L182.6,705.4 L186.2,702.2 L189.8,699.0 L193.4,695.9 L196.9,692.6 L200.5,689.5 L204.3,686.6 L208.2,683.9 L212.2,681.3 L216.2,678.8 L220.3,676.3 L224.4,673.8 L228.5,671.3 L232.6,668.8 L236.7,666.4 L240.8,664.0 L245.0,661.6 L249.2,659.5 L253.5,657.4 L257.8,655.4 L262.2,653.4 L266.6,651.6 L271.0,649.7 L275.4,647.9 L279.8,646.2 L284.3,644.5 L288.8,642.8 L293.2,641.2 L297.7,639.5 L302.2,637.8 L306.6,636.1 L311.1,634.4 L315.6,632.8 L320.1,631.2 L324.5,629.5 L329.0,627.9 L333.5,626.3 L338.1,624.8 L342.6,623.5 L347.2,622.1 L351.8,620.9 L356.4,619.6 L361.0,618.4 L365.7,617.3 L370.3,616.1 L374.9,614.9 L379.5,613.7 L384.1,612.5 L388.8,611.3 L393.4,610.1 L398.0,608.8 L402.6,607.6 L407.2,606.4 L411.8,605.2 L416.5,604.0 L421.1,602.9 L425.7,601.8 L430.4,600.7 L435.0,599.7 L439.7,598.7 L444.4,597.7 L449.0,596.7 L453.7,595.8 L458.4,594.9 L463.1,594.0 L467.8,593.1 L472.5,592.2 L477.2,591.4 L481.8,590.5 L486.5,589.7 L491.2,588.9 L495.9,588.0 L500.6,587.2 L505.3,586.4 L510.1,585.6 L514.8,584.9 L519.5,584.1 L524.2,583.4 L528.9,582.6 L533.6,581.9 L538.3,581.2 L543.1,580.6 L547.8,579.9 L552.5,579.3 L557.2,578.6 L562.0,578.0 L566.7,577.4 L571.4,576.8 L576.2,576.2 L580.9,575.7 L585.7,575.1 L590.4,574.6 L595.1,574.0 L599.9,573.5 L604.6,573.0 L609.4,572.5 L614.1,572.1 L618.9,571.6 L623.6,571.1 L628.3,570.6 L633.1,570.1 L637.8,569.5 L642.6,569.0 L647.3,568.4 L652.0,567.8 L656.8,567.3 L661.5,566.7 L666.2,566.1 L671.0,565.5 L675.7,564.9 L680.4,564.3 L685.2,563.6 L689.9,563.0 L694.6,562.4 L699.4,561.7 L704.1,561.0 L708.8,560.3 L713.5,559.6 L718.2,558.9 L722.9,558.2 L727.7,557.5 L732.4,556.8 L737.1,556.2 L741.9,555.6 L746.6,555.0 L751.3,554.4 L756.1,553.9 L760.8,553.4 L765.5,552.9 L770.3,552.3 L775.0,551.8 L779.8,551.3 L784.5,550.8 L789.3,550.2 L794.0,549.7" fill="none" stroke="#ea766a" stroke-width="22.5" stroke-linecap="round" stroke-linejoin="round"/>
<path d="M796.0,543.6 L796.8,543.5 L797.6,543.4 L798.3,543.3 L799.1,543.2 L799.9,543.2 L800.7,543.1 L801.4,543.0 L802.2,542.9 L803.0,542.8 L803.8,542.7 L804.6,542.7 L805.3,542.6 L806.1,542.5 L806.9,542.4 L807.7,542.3 L808.4,542.3 L809.2,542.2 L810.0,542.1 L810.8,542.1 L811.6,542.0 L812.3,541.9 L813.1,541.9 L813.9,541.8 L814.7,541.7 L815.4,541.7 L816.2,541.6 L817.0,541.5 L817.8,541.5 L818.6,541.4 L819.3,541.4 L820.1,541.3 L820.9,541.2 L821.7,541.2 L822.5,541.1 L823.2,541.1 L824.0,541.0 L824.8,541.0 L825.6,540.9 L826.4,540.8 L827.1,540.8 L827.9,540.7 L828.7,540.7 L829.5,540.6 L830.3,540.6 L831.0,540.5 L831.8,540.5 L832.6,540.4 L833.4,540.4 L834.2,540.3 L834.9,540.3 L835.7,540.2 L836.5,540.2 L837.3,540.1 L838.1,540.1 L838.8,540.0 L839.6,540.0 L840.4,539.9 L841.2,539.9 L842.0,539.8 L842.7,539.8 L843.5,539.7 L844.3,539.7 L845.1,539.6 L845.9,539.6 L846.7,539.5 L847.4,539.5 L848.2,539.4 L849.0,539.4 L849.8,539.3 L850.6,539.3 L851.3,539.2 L852.1,539.2 L852.9,539.1 L853.7,539.1 L854.5,539.0 L855.2,539.0 L856.0,538.9 L856.8,538.9 L857.6,538.8 L858.4,538.8 L859.1,538.7 L859.9,538.7 L860.7,538.6 L861.5,538.6 L862.3,538.5 L863.0,538.5 L863.8,538.4 L864.6,538.4 L865.4,538.4 L866.2,538.3 L866.9,538.3 L867.7,538.2 L868.5,538.2 L869.3,538.1 L870.1,538.1 L870.8,538.0 L871.6,538.0 L872.4,537.9 L873.2,537.9 L874.0,537.8 L874.7,537.8 L875.5,537.8 L876.3,537.7 L877.1,537.7 L877.9,537.6 L878.6,537.6 L879.4,537.5 L880.2,537.5 L881.0,537.4 L881.8,537.4 L882.5,537.3 L883.3,537.3 L884.1,537.2 L884.9,537.2 L885.7,537.1 L886.5,537.1 L887.2,537.0 L888.0,537.0 L888.8,536.9 L889.6,536.9 L890.4,536.8 L891.1,536.8 L891.9,536.7 L892.7,536.7 L893.5,536.6 L894.3,536.6 L895.0,536.5 L895.8,536.5 L896.6,536.4 L897.4,536.4 L898.2,536.3 L898.9,536.3 L899.7,536.2 L900.5,536.2 L901.3,536.1 L902.1,536.1 L902.8,536.0 L903.6,536.0 L904.4,535.9 L905.2,535.9 L906.0,535.8 L906.7,535.8 L907.5,535.7 L908.3,535.7 L909.1,535.6 L909.9,535.6 L910.6,535.5 L911.4,535.5 L912.2,535.4 L913.0,535.4 L913.8,535.3 L914.5,535.3 L915.3,535.2 L916.1,535.2 L916.9,535.1 L917.7,535.1 L918.4,535.0 L919.2,535.0 L920.0,534.9" fill="none" stroke="#ea766a" stroke-width="20.5" stroke-linecap="round" stroke-linejoin="round"/>
<path d="M131.6,838.0 L131.8,834.6 L132.1,831.2 L132.3,827.8 L132.6,824.4 L132.9,821.0 L133.1,817.6 L133.4,814.2 L133.7,810.8 L134.0,807.4 L134.3,804.0 L134.6,800.6 L135.0,797.2 L135.4,793.9 L135.9,790.5 L136.6,787.2 L137.3,783.8 L138.0,780.5 L138.8,777.2 L139.6,773.8 L140.4,770.5 L141.2,767.2 L142.0,763.9 L142.8,760.6 L143.7,757.3 L144.6,754.0 L145.5,750.7 L146.4,747.4 L147.4,744.2 L148.5,740.9 L149.6,737.7 L150.8,734.5 L152.1,731.4 L153.3,728.2 L154.6,725.0 L155.9,721.9 L157.2,718.7 L158.4,715.5 L159.6,712.3 L160.8,709.1 L162.0,705.9 L163.2,702.7 L164.4,699.6 L165.7,696.4 L167.0,693.3 L168.3,690.1 L169.7,687.0 L171.1,683.9 L172.5,680.8 L174.0,677.7 L175.5,674.6 L177.0,671.6 L178.6,668.6 L180.3,665.6 L181.9,662.7 L183.7,659.8 L185.5,656.9 L187.3,654.0 L189.1,651.1 L191.0,648.3 L193.0,645.4 L194.9,642.6 L196.9,639.8 L198.8,637.0 L200.8,634.3 L202.8,631.5 L204.8,628.7 L206.8,626.0 L208.9,623.2 L210.9,620.5 L213.0,617.8 L215.2,615.1 L217.3,612.4 L219.5,609.8 L221.7,607.2 L224.0,604.7 L226.3,602.2 L228.6,599.8 L231.1,597.4 L233.5,595.1 L236.1,592.8 L238.7,590.5 L241.3,588.3 L244.0,586.2 L246.6,584.1 L249.4,582.1 L252.1,580.1 L255.0,578.2 L257.8,576.4 L260.7,574.6 L263.7,572.8 L266.6,571.0 L269.5,569.3 L272.4,567.5 L275.3,565.8 L278.3,564.0 L281.2,562.3 L284.2,560.6 L287.1,558.9 L290.1,557.2 L293.1,555.6 L296.1,553.9 L299.0,552.3 L302.0,550.6 L305.0,549.0 L308.0,547.4 L311.1,545.8 L314.1,544.3 L317.2,542.8 L320.2,541.3 L323.3,539.9 L326.4,538.4 L329.5,537.0 L332.6,535.7 L335.8,534.3 L338.9,533.0 L342.0,531.6 L345.2,530.3 L348.3,529.0 L351.5,527.7 L354.6,526.4 L357.8,525.1 L361.0,523.9 L364.1,522.6 L367.3,521.4 L370.5,520.1 L373.7,518.9 L376.9,517.7 L380.0,516.5 L383.2,515.3 L386.4,514.1 L389.6,512.9 L392.8,511.7 L396.0,510.5 L399.2,509.4 L402.4,508.2 L405.6,507.0 L408.8,505.9 L412.0,504.7 L415.3,503.6 L418.5,502.5 L421.7,501.3 L424.9,500.2 L428.1,499.1 L431.3,498.0 L434.6,496.9 L437.8,495.8 L441.0,494.8 L444.3,493.7 L447.5,492.6 L450.8,491.6 L454.0,490.5 L457.2,489.5 L460.5,488.4 L463.7,487.4 L467.0,486.4 L470.2,485.3 L473.5,484.3 L476.7,483.3 L480.0,482.3" fill="none" stroke="#8bcaba" stroke-width="21.2" stroke-linecap="round" stroke-linejoin="round"/>
<path d="M157.0,719.1 L157.9,716.6 L158.8,714.1 L159.7,711.6 L160.6,709.1 L161.5,706.7 L162.5,704.2 L163.4,701.8 L164.4,699.3 L165.4,696.9 L166.5,694.5 L167.5,692.0 L168.5,689.6 L169.6,687.2 L170.7,684.8 L171.8,682.4 L172.9,680.0 L174.0,677.6 L175.2,675.2 L176.4,672.9 L177.6,670.5 L178.8,668.2 L180.1,665.9 L181.4,663.6 L182.7,661.3 L184.1,659.1 L185.5,656.8 L186.9,654.6 L188.3,652.4 L189.8,650.2 L191.2,647.9 L192.7,645.8 L194.2,643.6 L195.7,641.4 L197.3,639.2 L198.8,637.1 L200.3,634.9 L201.9,632.8 L203.4,630.7 L205.0,628.5 L206.5,626.4 L208.1,624.3 L209.7,622.1 L211.3,620.0 L212.9,617.9 L214.6,615.8 L216.2,613.8 L217.9,611.7 L219.6,609.7 L221.3,607.7 L223.1,605.7 L224.8,603.8 L226.6,601.9 L228.4,600.0 L230.3,598.2 L232.2,596.3 L234.2,594.5 L236.1,592.8 L238.1,591.0 L240.1,589.3 L242.2,587.6 L244.3,585.9 L246.3,584.3 L248.4,582.8 L250.6,581.2 L252.7,579.7 L254.9,578.3 L257.1,576.8 L259.4,575.4 L261.6,574.0 L263.9,572.7 L266.2,571.3 L268.4,569.9 L270.7,568.6 L272.9,567.2 L275.2,565.8 L277.5,564.5 L279.8,563.2 L282.0,561.8 L284.3,560.5 L286.6,559.2 L288.9,557.9 L291.2,556.6 L293.5,555.3 L295.8,554.0 L298.1,552.8 L300.5,551.5 L302.8,550.2 L305.1,549.0 L307.4,547.7 L309.8,546.5 L312.1,545.3 L314.5,544.1 L316.8,542.9 L319.2,541.8 L321.6,540.7 L324.0,539.6 L326.4,538.5 L328.8,537.4 L331.2,536.3 L333.6,535.2 L336.0,534.2 L338.5,533.1 L340.9,532.1 L343.3,531.1 L345.8,530.1 L348.2,529.0 L350.6,528.0 L353.1,527.0 L355.5,526.1 L358.0,525.1 L360.4,524.1 L362.9,523.1 L365.3,522.2 L367.8,521.2 L370.3,520.2 L372.7,519.3 L375.2,518.3 L377.7,517.4 L380.1,516.5 L382.6,515.5 L385.1,514.6 L387.5,513.7 L390.0,512.7 L392.5,511.8 L395.0,510.9 L397.4,510.0 L399.9,509.1 L402.4,508.2 L404.9,507.3 L407.4,506.4 L409.8,505.5 L412.3,504.6 L414.8,503.8 L417.3,502.9 L419.8,502.0 L422.3,501.1 L424.8,500.3 L427.3,499.4 L429.8,498.5 L432.3,497.7 L434.8,496.8 L437.3,496.0 L439.8,495.2 L442.3,494.3 L444.8,493.5 L447.3,492.7 L449.8,491.9 L452.3,491.1 L454.8,490.3 L457.3,489.4 L459.9,488.6 L462.4,487.8 L464.9,487.0 L467.4,486.2 L469.9,485.4 L472.4,484.6 L475.0,483.9 L477.5,483.1 L480.0,482.3" fill="none" stroke="#8bcaba" stroke-width="22.2" stroke-linecap="round" stroke-linejoin="round"/>
<path d="M316.1,543.3 L317.1,542.8 L318.1,542.4 L319.1,541.9 L320.1,541.4 L321.1,541.0 L322.1,540.5 L323.1,540.0 L324.1,539.6 L325.1,539.1 L326.1,538.6 L327.1,538.2 L328.1,537.7 L329.1,537.3 L330.1,536.8 L331.1,536.4 L332.1,535.9 L333.1,535.5 L334.1,535.0 L335.1,534.6 L336.1,534.2 L337.1,533.7 L338.1,533.3 L339.2,532.8 L340.2,532.4 L341.2,532.0 L342.2,531.6 L343.2,531.1 L344.2,530.7 L345.2,530.3 L346.3,529.9 L347.3,529.4 L348.3,529.0 L349.3,528.6 L350.3,528.2 L351.3,527.8 L352.4,527.3 L353.4,526.9 L354.4,526.5 L355.4,526.1 L356.4,525.7 L357.5,525.3 L358.5,524.9 L359.5,524.5 L360.5,524.1 L361.6,523.6 L362.6,523.2 L363.6,522.8 L364.6,522.4 L365.7,522.0 L366.7,521.6 L367.7,521.2 L368.7,520.8 L369.8,520.4 L370.8,520.0 L371.8,519.6 L372.8,519.2 L373.9,518.8 L374.9,518.5 L375.9,518.1 L376.9,517.7 L378.0,517.3 L379.0,516.9 L380.0,516.5 L381.1,516.1 L382.1,515.7 L383.1,515.3 L384.1,514.9 L385.2,514.5 L386.2,514.2 L387.2,513.8 L388.3,513.4 L389.3,513.0 L390.3,512.6 L391.4,512.2 L392.4,511.9 L393.4,511.5 L394.5,511.1 L395.5,510.7 L396.5,510.3 L397.6,510.0 L398.6,509.6 L399.6,509.2 L400.7,508.8 L401.7,508.4 L402.7,508.1 L403.8,507.7 L404.8,507.3 L405.8,506.9 L406.9,506.6 L407.9,506.2 L409.0,505.8 L410.0,505.5 L411.0,505.1 L412.1,504.7 L413.1,504.4 L414.1,504.0 L415.2,503.6 L416.2,503.3 L417.3,502.9 L418.3,502.5 L419.3,502.2 L420.4,501.8 L421.4,501.4 L422.5,501.1 L423.5,500.7 L424.5,500.4 L425.6,500.0 L426.6,499.6 L427.7,499.3 L428.7,498.9 L429.7,498.6 L430.8,498.2 L431.8,497.9 L432.9,497.5 L433.9,497.1 L434.9,496.8 L436.0,496.4 L437.0,496.1 L438.1,495.7 L439.1,495.4 L440.2,495.0 L441.2,494.7 L442.3,494.4 L443.3,494.0 L444.3,493.7 L445.4,493.3 L446.4,493.0 L447.5,492.6 L448.5,492.3 L449.6,492.0 L450.6,491.6 L451.7,491.3 L452.7,490.9 L453.8,490.6 L454.8,490.3 L455.9,489.9 L456.9,489.6 L458.0,489.3 L459.0,488.9 L460.1,488.6 L461.1,488.2 L462.1,487.9 L463.2,487.6 L464.2,487.2 L465.3,486.9 L466.3,486.6 L467.4,486.2 L468.4,485.9 L469.5,485.6 L470.5,485.2 L471.6,484.9 L472.6,484.6 L473.7,484.3 L474.7,483.9 L475.8,483.6 L476.8,483.3 L477.9,483.0 L478.9,482.6 L480.0,482.3" fill="none" stroke="#8bcaba" stroke-width="24.2" stroke-linecap="round" stroke-linejoin="round"/>
<path d="M482.0,478.6 L484.7,478.0 L487.5,477.4 L490.2,476.8 L493.0,476.2 L495.7,475.6 L498.4,474.9 L501.2,474.2 L503.9,473.6 L506.6,472.9 L509.3,472.1 L512.0,471.4 L514.7,470.6 L517.4,469.8 L520.0,469.0 L522.7,468.1 L525.4,467.2 L528.0,466.3 L530.7,465.5 L533.4,464.6 L536.1,463.8 L538.8,463.0 L541.5,462.3 L544.2,461.6 L546.9,460.9 L549.6,460.3 L552.3,459.6 L555.1,459.0 L557.8,458.3 L560.5,457.7 L563.3,457.1 L566.0,456.5 L568.8,455.9 L571.5,455.3 L574.2,454.7 L577.0,454.1 L579.7,453.5 L582.5,452.9 L585.2,452.3 L587.9,451.7 L590.7,451.0 L593.4,450.4 L596.1,449.8 L598.9,449.2 L601.6,448.5 L604.3,447.9 L607.1,447.3 L609.8,446.7 L612.5,446.1 L615.3,445.4 L618.0,444.8 L620.8,444.2 L623.5,443.6 L626.2,443.1 L629.0,442.5 L631.7,441.9 L634.5,441.3 L637.2,440.8 L640.0,440.3 L642.7,439.7 L645.5,439.2 L648.2,438.7 L651.0,438.2 L653.8,437.8 L656.5,437.3 L659.3,436.8 L662.1,436.3 L664.8,435.9 L667.6,435.4 L670.4,434.9 L673.1,434.5 L675.9,434.0 L678.7,433.5 L681.4,433.1 L684.2,432.6 L687.0,432.2 L689.7,431.7 L692.5,431.3 L695.3,430.8 L698.0,430.4 L700.8,429.9 L703.6,429.5 L706.3,429.0 L709.1,428.6 L711.9,428.2 L714.6,427.7 L717.4,427.3 L720.2,426.8 L723.0,426.4 L725.7,426.0 L728.5,425.6 L731.3,425.1 L734.0,424.7 L736.8,424.3 L739.6,423.9 L742.4,423.4 L745.1,423.0 L747.9,422.6 L750.7,422.2 L753.5,421.8 L756.2,421.4 L759.0,421.0 L761.8,420.6 L764.6,420.2 L767.3,419.8 L770.1,419.4 L772.9,419.0 L775.7,418.6 L778.4,418.2 L781.2,417.8 L784.0,417.5 L786.8,417.1 L789.5,416.7 L792.3,416.3 L795.1,415.9 L797.9,415.5 L800.7,415.1 L803.4,414.7 L806.2,414.3 L809.0,413.9 L811.8,413.5 L814.5,413.1 L817.3,412.7 L820.1,412.3 L822.9,411.9 L825.6,411.6 L828.4,411.2 L831.2,410.8 L834.0,410.4 L836.7,410.0 L839.5,409.6 L842.3,409.2 L845.1,408.8 L847.9,408.4 L850.6,408.0 L853.4,407.6 L856.2,407.2 L859.0,406.8 L861.7,406.4 L864.5,406.0 L867.3,405.6 L870.1,405.2 L872.8,404.8 L875.6,404.4 L878.4,404.0 L881.2,403.6 L883.9,403.2 L886.7,402.8 L889.5,402.4 L892.3,402.0 L895.0,401.6 L897.8,401.2 L900.6,400.8 L903.4,400.4 L906.1,400.0 L908.9,399.6 L911.7,399.1 L914.5,398.7 L917.2,398.3 L920.0,397.9" fill="none" stroke="#8bcaba" stroke-width="21.5" stroke-linecap="round" stroke-linejoin="round"/>
<ellipse cx="267.1" cy="543.9" rx="8.45" ry="8.80" fill="none" stroke="#98bdb2" stroke-width="2.0"/>
<ellipse cx="235.9" cy="639.4" rx="8.45" ry="8.80" fill="none" stroke="#98bdb2" stroke-width="2.0"/>
<ellipse cx="480.3" cy="507.1" rx="8.45" ry="8.80" fill="none" stroke="#98bdb2" stroke-width="2.0"/>
<ellipse cx="136.2" cy="812.0" rx="7.87" ry="8.20" fill="none" stroke="#a9c3b8" stroke-width="1.6"/>
<ellipse cx="135.2" cy="820.0" rx="7.87" ry="8.20" fill="none" stroke="#b9b3a6" stroke-width="1.6"/>
<ellipse cx="134.2" cy="827.0" rx="7.87" ry="8.20" fill="none" stroke="#a9c3b8" stroke-width="1.6"/>
<ellipse cx="133.3" cy="834.0" rx="7.87" ry="8.20" fill="none" stroke="#b9b3a6" stroke-width="1.6"/>
<ellipse cx="132.4" cy="840.0" rx="7.87" ry="8.20" fill="none" stroke="#a9c3b8" stroke-width="1.6"/>
<ellipse cx="131.6" cy="846.0" rx="7.87" ry="8.20" fill="none" stroke="#b9b3a6" stroke-width="1.6"/>
<ellipse cx="130.8" cy="851.0" rx="7.87" ry="8.20" fill="none" stroke="#a9c3b8" stroke-width="1.6"/>
<ellipse cx="129.6" cy="858.8" rx="8.64" ry="9.00" fill="none" stroke="#9bbdb2" stroke-width="2.0"/>
<rect x="98.00" y="94.80" width="855.50" height="794.80" fill="none" stroke="#141414" stroke-width="2.4"/>
<line x1="74.00" y1="124.20" x2="98.00" y2="124.20" stroke="#141414" stroke-width="2.4"/>
<text transform="translate(61.60,134.60) scale(0.8720,1.0000)" font-size="28.5" text-anchor="end" fill="#141414" stroke="#141414" stroke-width="0.5">200</text>
<line x1="74.00" y1="860.60" x2="98.00" y2="860.60" stroke="#141414" stroke-width="2.4"/>
<text transform="translate(64.20,872.40) scale(0.8720,1.0000)" font-size="28.5" text-anchor="end" fill="#141414" stroke="#141414" stroke-width="0.5">0</text>
<line x1="129.50" y1="889.60" x2="129.50" y2="916.00" stroke="#141414" stroke-width="2.4"/>
<text transform="translate(129.50,961.20) scale(0.8720,1.0000)" font-size="28.5" text-anchor="middle" fill="#141414" stroke="#141414" stroke-width="0.5">0</text>
<line x1="327.60" y1="889.60" x2="327.60" y2="916.00" stroke="#141414" stroke-width="2.4"/>
<text transform="translate(327.60,961.20) scale(0.8720,1.0000)" font-size="28.5" text-anchor="middle" fill="#141414" stroke="#141414" stroke-width="0.5">1000</text>
<line x1="525.60" y1="889.60" x2="525.60" y2="916.00" stroke="#141414" stroke-width="2.4"/>
<text transform="translate(525.60,961.20) scale(0.8720,1.0000)" font-size="28.5" text-anchor="middle" fill="#141414" stroke="#141414" stroke-width="0.5">2000</text>
<line x1="724.20" y1="889.60" x2="724.20" y2="916.00" stroke="#141414" stroke-width="2.4"/>
<text transform="translate(724.20,961.20) scale(0.8720,1.0000)" font-size="28.5" text-anchor="middle" fill="#141414" stroke="#141414" stroke-width="0.5">3000</text>
<line x1="922.30" y1="889.60" x2="922.30" y2="916.00" stroke="#141414" stroke-width="2.4"/>
<text transform="translate(922.30,961.20) scale(0.8720,1.0000)" font-size="28.5" text-anchor="middle" fill="#141414" stroke="#141414" stroke-width="0.5">4000</text>
<text transform="translate(523.50,1013.00) scale(0.8720,1.0000)" font-size="28.5" text-anchor="middle" fill="#141414" stroke="#141414" stroke-width="0.5">Sample size</text>
<text transform="translate(36.80,496.80) rotate(-90) scale(1.0000,0.8200)" font-size="29.3" text-anchor="middle" fill="#141414" stroke="#141414" stroke-width="0.5">Species richness</text>
<rect x="571.60" y="177.20" width="47.20" height="26.60" fill="#ea766a" stroke="#2b2220" stroke-width="1.9"/>
<rect x="571.60" y="230.50" width="47.20" height="26.30" fill="#8bcaba" stroke="#222b28" stroke-width="1.9"/>
<text transform="translate(629.70,198.20) scale(0.8680,1.0000)" font-size="28.5" text-anchor="start" fill="#141414" stroke="#141414" stroke-width="0.5">BAD</text>
<text transform="translate(629.40,251.30) scale(0.8760,1.0000)" font-size="28.5" text-anchor="start" fill="#141414" stroke="#141414" stroke-width="0.5">IBS</text>
<rect x="197.10" y="121.50" width="228.30" height="269.60" fill="#ffffff" stroke="#141414" stroke-width="2.6"/>
<line x1="190.90" y1="151.50" x2="197.10" y2="151.50" stroke="#141414" stroke-width="2.5"/>
<line x1="190.90" y1="354.60" x2="197.10" y2="354.60" stroke="#141414" stroke-width="2.5"/>
<line x1="257.90" y1="391.10" x2="257.90" y2="400.40" stroke="#141414" stroke-width="2.5"/>
<line x1="363.60" y1="391.10" x2="363.60" y2="400.40" stroke="#141414" stroke-width="2.5"/>
<line x1="258.30" y1="261.00" x2="258.30" y2="295.60" stroke="#141414" stroke-width="2.3" stroke-dasharray="10 14.3"/>
<line x1="258.30" y1="380.80" x2="258.30" y2="352.70" stroke="#141414" stroke-width="2.3" stroke-dasharray="10 14.3"/>
<line x1="236.80" y1="261.00" x2="279.80" y2="261.00" stroke="#141414" stroke-width="2.3"/>
<line x1="236.80" y1="380.80" x2="279.80" y2="380.80" stroke="#141414" stroke-width="2.3"/>
<rect x="215.80" y="295.60" width="85.10" height="57.10" fill="#ea766a" stroke="#141414" stroke-width="2.6"/>
<rect x="215.8" y="317.1" width="85.1" height="10.4" fill="#0b0b08"/>
<line x1="364.00" y1="216.10" x2="364.00" y2="244.10" stroke="#141414" stroke-width="2.3" stroke-dasharray="10 14.3"/>
<line x1="364.00" y1="320.90" x2="364.00" y2="290.00" stroke="#141414" stroke-width="2.3" stroke-dasharray="10 14.3"/>
<line x1="342.50" y1="216.10" x2="385.50" y2="216.10" stroke="#141414" stroke-width="2.3"/>
<line x1="342.50" y1="320.90" x2="385.50" y2="320.90" stroke="#141414" stroke-width="2.3"/>
<rect x="321.50" y="244.10" width="85.20" height="45.90" fill="#8bcaba" stroke="#141414" stroke-width="2.6"/>
<rect x="321.5" y="264.7" width="85.2" height="10.4" fill="#0b0b08"/>
<circle cx="363.8" cy="130.9" r="3.0" fill="#fff" stroke="#111" stroke-width="2.1"/>
<text transform="translate(210.60,167.30) scale(0.8660,1.0000)" font-size="28.5" text-anchor="start" fill="#141414" stroke="#141414" stroke-width="0.5">p−value (t−test)</text>
<text transform="translate(210.80,204.00) scale(0.8500,1.0000)" font-size="28.5" text-anchor="start" fill="#141414" stroke="#141414" stroke-width="0.5">= 0.014</text>
<text transform="translate(145.70,258.40) rotate(-90) scale(1.0000,0.8500)" font-size="29.3" text-anchor="middle" fill="#141414" stroke="#141414" stroke-width="0.5">Shannon’s α-diversity</text>
<text transform="translate(181.00,151.50) rotate(-90) scale(1.0000,0.8400)" font-size="28.5" text-anchor="middle" fill="#141414" stroke="#141414" stroke-width="0.5">60</text>
<text transform="translate(181.00,355.30) rotate(-90) scale(1.0000,0.8400)" font-size="28.5" text-anchor="middle" fill="#141414" stroke="#141414" stroke-width="0.5">10</text>
<text transform="translate(15.20,55.50) scale(0.8750,1.0000)" font-size="51.8" text-anchor="start" font-weight="700" fill="#141414" stroke="#141414" stroke-width="0.5">A</text>
</g>
<g id="panelB">
<line x1="1250.40" y1="113.10" x2="1250.40" y2="629.80" stroke="#141414" stroke-width="2.5"/>
<line x1="1240.80" y1="114.30" x2="1250.40" y2="114.30" stroke="#141414" stroke-width="2.5"/>
<text transform="translate(1225.00,128.20)" font-size="29.7" text-anchor="end" fill="#141414" stroke="#141414" stroke-width="0.5">3e+05</text>
<line x1="1240.80" y1="370.90" x2="1250.40" y2="370.90" stroke="#141414" stroke-width="2.5"/>
<text transform="translate(1225.00,385.30)" font-size="29.7" text-anchor="end" fill="#141414" stroke="#141414" stroke-width="0.5">1.5e+05</text>
<line x1="1240.80" y1="628.60" x2="1250.40" y2="628.60" stroke="#141414" stroke-width="2.5"/>
<text transform="translate(1225.00,638.50)" font-size="29.7" text-anchor="end" fill="#141414" stroke="#141414" stroke-width="0.5">0</text>
<text transform="translate(1095.00,376.70) rotate(-90)" font-size="29.45" text-anchor="middle" fill="#141414" stroke="#141414" stroke-width="0.5">species abundance</text>
<rect x="1280.00" y="460.40" width="40.00" height="168.20" fill="#ea766a" stroke="#10130f" stroke-width="2.9"/>
<rect x="1320.00" y="120.00" width="40.00" height="508.60" fill="#8bcaba" stroke="#10130f" stroke-width="2.9"/>
<text transform="translate(1328.30,652.80) rotate(-90)" font-size="29.6" text-anchor="end" fill="#141414" stroke="#141414" stroke-width="0.5">p__Firmicutes</text>
<rect x="1402.40" y="450.40" width="40.00" height="178.20" fill="#ea766a" stroke="#10130f" stroke-width="2.9"/>
<rect x="1442.40" y="388.60" width="40.00" height="240.00" fill="#8bcaba" stroke="#10130f" stroke-width="2.9"/>
<text transform="translate(1450.70,652.80) rotate(-90)" font-size="29.6" text-anchor="end" fill="#141414" stroke="#141414" stroke-width="0.5">p__Bacteroidetes</text>
<line x1="1523.50" y1="628.60" x2="1566.30" y2="628.60" stroke="#10130f" stroke-width="3.8"/>
<rect x="1564.90" y="620.30" width="40.00" height="8.30" fill="#8bcaba" stroke="#10130f" stroke-width="2.9"/>
<text transform="translate(1573.20,652.80) rotate(-90)" font-size="29.6" text-anchor="end" fill="#141414" stroke="#141414" stroke-width="0.5">p__Proteobacteria</text>
<line x1="1645.80" y1="628.60" x2="1688.60" y2="628.60" stroke="#10130f" stroke-width="3.8"/>
<rect x="1687.20" y="622.60" width="40.00" height="6.00" fill="#8bcaba" stroke="#10130f" stroke-width="2.9"/>
<text transform="translate(1695.50,652.80) rotate(-90)" font-size="29.6" text-anchor="end" fill="#141414" stroke="#141414" stroke-width="0.5">p__Actinobacteria</text>
<rect x="1770.60" y="623.60" width="40.00" height="5.00" fill="#ea766a" stroke="#10130f" stroke-width="2.9"/>
<line x1="1809.20" y1="628.60" x2="1852.00" y2="628.60" stroke="#10130f" stroke-width="3.0"/>
<text transform="translate(1818.90,652.80) rotate(-90)" font-size="29.6" text-anchor="end" fill="#141414" stroke="#141414" stroke-width="0.5">p__Verrucomicrobia</text>
<text transform="translate(1501.30,961.60)" font-size="38.3" text-anchor="start" font-weight="700" fill="#141414" stroke="#141414" stroke-width="0.5">Phylum</text>
<rect x="1561.20" y="156.50" width="57.60" height="25.90" fill="#ea766a" stroke="#2b2220" stroke-width="1.9"/>
<rect x="1561.20" y="209.40" width="57.60" height="26.00" fill="#8bcaba" stroke="#222b28" stroke-width="1.9"/>
<text transform="translate(1630.50,177.40)" font-size="30" text-anchor="start" fill="#141414" stroke="#141414" stroke-width="0.5">BAD</text>
<text transform="translate(1630.60,230.40)" font-size="30" text-anchor="start" fill="#141414" stroke="#141414" stroke-width="0.5">IBS</text>
<text transform="translate(1041.70,58.50) scale(0.8820,1.0000)" font-size="53.6" text-anchor="start" font-weight="700" fill="#141414" stroke="#141414" stroke-width="0.5">B</text>
</g>
<g id="panelC">
<line x1="178.60" y1="1169.00" x2="178.60" y2="2059.30" stroke="#141414" stroke-width="2.1"/>
<line x1="155.20" y1="2058.30" x2="178.60" y2="2058.30" stroke="#141414" stroke-width="2.1"/>
<text transform="translate(135.40,2067.00)" font-size="24.1" text-anchor="end" fill="#141414" stroke="#141414" stroke-width="0.5">0e+00</text>
<line x1="155.20" y1="1910.25" x2="178.60" y2="1910.25" stroke="#141414" stroke-width="2.1"/>
<text transform="translate(135.40,1918.95)" font-size="24.1" text-anchor="end" fill="#141414" stroke="#141414" stroke-width="0.5">2e+04</text>
<line x1="155.20" y1="1762.20" x2="178.60" y2="1762.20" stroke="#141414" stroke-width="2.1"/>
<text transform="translate(135.40,1770.90)" font-size="24.1" text-anchor="end" fill="#141414" stroke="#141414" stroke-width="0.5">4e+04</text>
<line x1="155.20" y1="1614.15" x2="178.60" y2="1614.15" stroke="#141414" stroke-width="2.1"/>
<text transform="translate(135.40,1622.85)" font-size="24.1" text-anchor="end" fill="#141414" stroke="#141414" stroke-width="0.5">6e+04</text>
<line x1="155.20" y1="1466.10" x2="178.60" y2="1466.10" stroke="#141414" stroke-width="2.1"/>
<text transform="translate(135.40,1474.80)" font-size="24.1" text-anchor="end" fill="#141414" stroke="#141414" stroke-width="0.5">8e+04</text>
<line x1="155.20" y1="1318.05" x2="178.60" y2="1318.05" stroke="#141414" stroke-width="2.1"/>
<text transform="translate(135.40,1326.75)" font-size="24.1" text-anchor="end" fill="#141414" stroke="#141414" stroke-width="0.5">1e+05</text>
<line x1="155.20" y1="1170.00" x2="178.60" y2="1170.00" stroke="#141414" stroke-width="2.1"/>
<text transform="translate(135.40,1182.00)" font-size="24.1" text-anchor="end" fill="#141414" stroke="#141414" stroke-width="0.5">1.2e+05</text>
<text transform="translate(33.00,1615.60) rotate(-90)" font-size="24.4" text-anchor="middle" fill="#141414" stroke="#141414" stroke-width="0.5">species abundance</text>
<rect x="213.20" y="1594.60" width="32.55" height="463.70" fill="#ea766a" stroke="#10130f" stroke-width="2.4"/>
<rect x="245.75" y="1238.30" width="32.55" height="820.00" fill="#8bcaba" stroke="#10130f" stroke-width="2.4"/>
<text transform="translate(252.55,2083.60) rotate(-90)" font-size="24.3" text-anchor="end" fill="#141414" stroke="#141414" stroke-width="0.5">f__Lachnospiraceae</text>
<rect x="303.40" y="1673.80" width="32.55" height="384.50" fill="#ea766a" stroke="#10130f" stroke-width="2.4"/>
<rect x="335.95" y="1327.40" width="32.55" height="730.90" fill="#8bcaba" stroke="#10130f" stroke-width="2.4"/>
<text transform="translate(342.75,2083.60) rotate(-90)" font-size="24.3" text-anchor="end" fill="#141414" stroke="#141414" stroke-width="0.5">f__Bacteroidaceae</text>
<rect x="393.60" y="1859.10" width="32.55" height="199.20" fill="#ea766a" stroke="#10130f" stroke-width="2.4"/>
<rect x="426.15" y="1351.60" width="32.55" height="706.70" fill="#8bcaba" stroke="#10130f" stroke-width="2.4"/>
<text transform="translate(432.95,2083.60) rotate(-90)" font-size="24.3" text-anchor="end" fill="#141414" stroke="#141414" stroke-width="0.5">f__Ruminococcaceae</text>
<rect x="483.80" y="1692.70" width="32.55" height="365.60" fill="#ea766a" stroke="#10130f" stroke-width="2.4"/>
<rect x="516.35" y="1925.80" width="32.55" height="132.50" fill="#8bcaba" stroke="#10130f" stroke-width="2.4"/>
<text transform="translate(523.15,2083.60) rotate(-90)" font-size="24.3" text-anchor="end" fill="#141414" stroke="#141414" stroke-width="0.5">f__Prevotellaceae</text>
<rect x="574.00" y="2053.10" width="32.55" height="5.20" fill="#ea766a" stroke="#10130f" stroke-width="2.4"/>
<rect x="606.55" y="1973.60" width="32.55" height="84.70" fill="#8bcaba" stroke="#10130f" stroke-width="2.4"/>
<text transform="translate(613.35,2083.60) rotate(-90)" font-size="24.3" text-anchor="end" fill="#141414" stroke="#141414" stroke-width="0.5">f__Porphyromonadaceae</text>
<rect x="664.20" y="2046.80" width="32.55" height="11.50" fill="#ea766a" stroke="#10130f" stroke-width="2.4"/>
<rect x="696.75" y="1995.70" width="32.55" height="62.60" fill="#8bcaba" stroke="#10130f" stroke-width="2.4"/>
<text transform="translate(703.55,2083.60) rotate(-90)" font-size="24.3" text-anchor="end" fill="#141414" stroke="#141414" stroke-width="0.5">f__Rikenellaceae</text>
<rect x="754.40" y="2045.10" width="32.55" height="13.20" fill="#ea766a" stroke="#10130f" stroke-width="2.4"/>
<rect x="786.95" y="2007.20" width="32.55" height="51.10" fill="#8bcaba" stroke="#10130f" stroke-width="2.4"/>
<text transform="translate(793.75,2083.60) rotate(-90)" font-size="24.3" text-anchor="end" fill="#141414" stroke="#141414" stroke-width="0.5">f__Veillonellaceae</text>
<line x1="843.40" y1="2058.30" x2="878.35" y2="2058.30" stroke="#10130f" stroke-width="2.4"/>
<rect x="877.15" y="2004.70" width="32.55" height="53.60" fill="#8bcaba" stroke="#10130f" stroke-width="2.4"/>
<text transform="translate(883.95,2083.60) rotate(-90)" font-size="24.3" text-anchor="end" fill="#141414" stroke="#141414" stroke-width="0.5">f__Streptococcaceae</text>
<rect x="934.80" y="2045.10" width="32.55" height="13.20" fill="#ea766a" stroke="#10130f" stroke-width="2.4"/>
<rect x="967.35" y="2034.40" width="32.55" height="23.90" fill="#8bcaba" stroke="#10130f" stroke-width="2.4"/>
<text transform="translate(974.15,2083.60) rotate(-90)" font-size="24.3" text-anchor="end" fill="#141414" stroke="#141414" stroke-width="0.5">f__Clostridiaceae</text>
<rect x="1025.00" y="2054.00" width="32.55" height="4.30" fill="#ea766a" stroke="#10130f" stroke-width="2.4"/>
<rect x="1057.55" y="2040.80" width="32.55" height="17.50" fill="#8bcaba" stroke="#10130f" stroke-width="2.4"/>
<text transform="translate(1064.35,2083.60) rotate(-90)" font-size="24.3" text-anchor="end" fill="#141414" stroke="#141414" stroke-width="0.5">f__[Barnesiellaceae]</text>
<rect x="1115.20" y="2037.40" width="32.55" height="20.90" fill="#ea766a" stroke="#10130f" stroke-width="2.4"/>
<line x1="1146.55" y1="2058.30" x2="1181.50" y2="2058.30" stroke="#10130f" stroke-width="2.4"/>
<text transform="translate(1154.55,2083.60) rotate(-90)" font-size="24.3" text-anchor="end" fill="#141414" stroke="#141414" stroke-width="0.5">f__Verrucomicrobiaceae</text>
<rect x="1205.40" y="2055.80" width="32.55" height="2.50" fill="#ea766a" stroke="#10130f" stroke-width="2.4"/>
<rect x="1237.95" y="2042.50" width="32.55" height="15.80" fill="#8bcaba" stroke="#10130f" stroke-width="2.4"/>
<text transform="translate(1244.75,2083.60) rotate(-90)" font-size="24.3" text-anchor="end" fill="#141414" stroke="#141414" stroke-width="0.5">f__Bifidobacteriaceae</text>
<line x1="1294.40" y1="2058.30" x2="1329.35" y2="2058.30" stroke="#10130f" stroke-width="2.4"/>
<rect x="1328.15" y="2040.40" width="32.55" height="17.90" fill="#8bcaba" stroke="#10130f" stroke-width="2.4"/>
<text transform="translate(1334.95,2083.60) rotate(-90)" font-size="24.3" text-anchor="end" fill="#141414" stroke="#141414" stroke-width="0.5">f__Pasteurellaceae</text>
<rect x="1385.80" y="2054.00" width="32.55" height="4.30" fill="#ea766a" stroke="#10130f" stroke-width="2.4"/>
<rect x="1418.35" y="2048.00" width="32.55" height="10.30" fill="#8bcaba" stroke="#10130f" stroke-width="2.4"/>
<text transform="translate(1425.15,2083.60) rotate(-90)" font-size="24.3" text-anchor="end" fill="#141414" stroke="#141414" stroke-width="0.5">f__Enterobacteriaceae</text>
<line x1="1474.80" y1="2058.30" x2="1509.75" y2="2058.30" stroke="#10130f" stroke-width="2.4"/>
<rect x="1508.55" y="2045.50" width="32.55" height="12.80" fill="#8bcaba" stroke="#10130f" stroke-width="2.4"/>
<text transform="translate(1515.35,2083.60) rotate(-90)" font-size="24.3" text-anchor="end" fill="#141414" stroke="#141414" stroke-width="0.5">f__Coriobacteriaceae</text>
<line x1="1565.00" y1="2058.30" x2="1599.95" y2="2058.30" stroke="#10130f" stroke-width="3.2"/>
<rect x="1598.75" y="2051.00" width="32.55" height="7.30" fill="#8bcaba" stroke="#10130f" stroke-width="2.4"/>
<text transform="translate(1605.55,2083.60) rotate(-90)" font-size="24.3" text-anchor="end" fill="#141414" stroke="#141414" stroke-width="0.5">f__[Odoribacteraceae]</text>
<line x1="1655.20" y1="2058.30" x2="1690.15" y2="2058.30" stroke="#10130f" stroke-width="2.4"/>
<rect x="1688.95" y="2049.70" width="32.55" height="8.60" fill="#8bcaba" stroke="#10130f" stroke-width="2.4"/>
<text transform="translate(1695.75,2083.60) rotate(-90)" font-size="24.3" text-anchor="end" fill="#141414" stroke="#141414" stroke-width="0.5">f__Christensenellaceae</text>
<line x1="1745.40" y1="2058.30" x2="1780.35" y2="2058.30" stroke="#10130f" stroke-width="3.2"/>
<rect x="1779.15" y="2051.40" width="32.55" height="6.90" fill="#8bcaba" stroke="#10130f" stroke-width="2.4"/>
<text transform="translate(1785.95,2083.60) rotate(-90)" font-size="24.3" text-anchor="end" fill="#141414" stroke="#141414" stroke-width="0.5">f__Alcaligenaceae</text>
<line x1="1835.60" y1="2058.30" x2="1870.55" y2="2058.30" stroke="#10130f" stroke-width="2.4"/>
<rect x="1869.35" y="2051.40" width="32.55" height="6.90" fill="#8bcaba" stroke="#10130f" stroke-width="2.4"/>
<text transform="translate(1876.15,2083.60) rotate(-90)" font-size="24.3" text-anchor="end" fill="#141414" stroke="#141414" stroke-width="0.5">f__Lactobacillaceae</text>
<line x1="1925.80" y1="2058.30" x2="1960.75" y2="2058.30" stroke="#10130f" stroke-width="2.4"/>
<rect x="1959.55" y="2054.00" width="32.55" height="4.30" fill="#8bcaba" stroke="#10130f" stroke-width="2.4"/>
<text transform="translate(1966.35,2083.60) rotate(-90)" font-size="24.3" text-anchor="end" fill="#141414" stroke="#141414" stroke-width="0.5">f__[Mogibacteriaceae]</text>
<text transform="translate(966.90,2375.20)" font-size="31.2" text-anchor="start" font-weight="700" fill="#141414" stroke="#141414" stroke-width="0.5">Family</text>
<text transform="translate(12.90,1138.30) scale(0.9400,1.0000)" font-size="43.2" text-anchor="start" font-weight="700" fill="#141414" stroke="#141414" stroke-width="0.5">C</text>
</g>
</svg>
</body>
</html>
